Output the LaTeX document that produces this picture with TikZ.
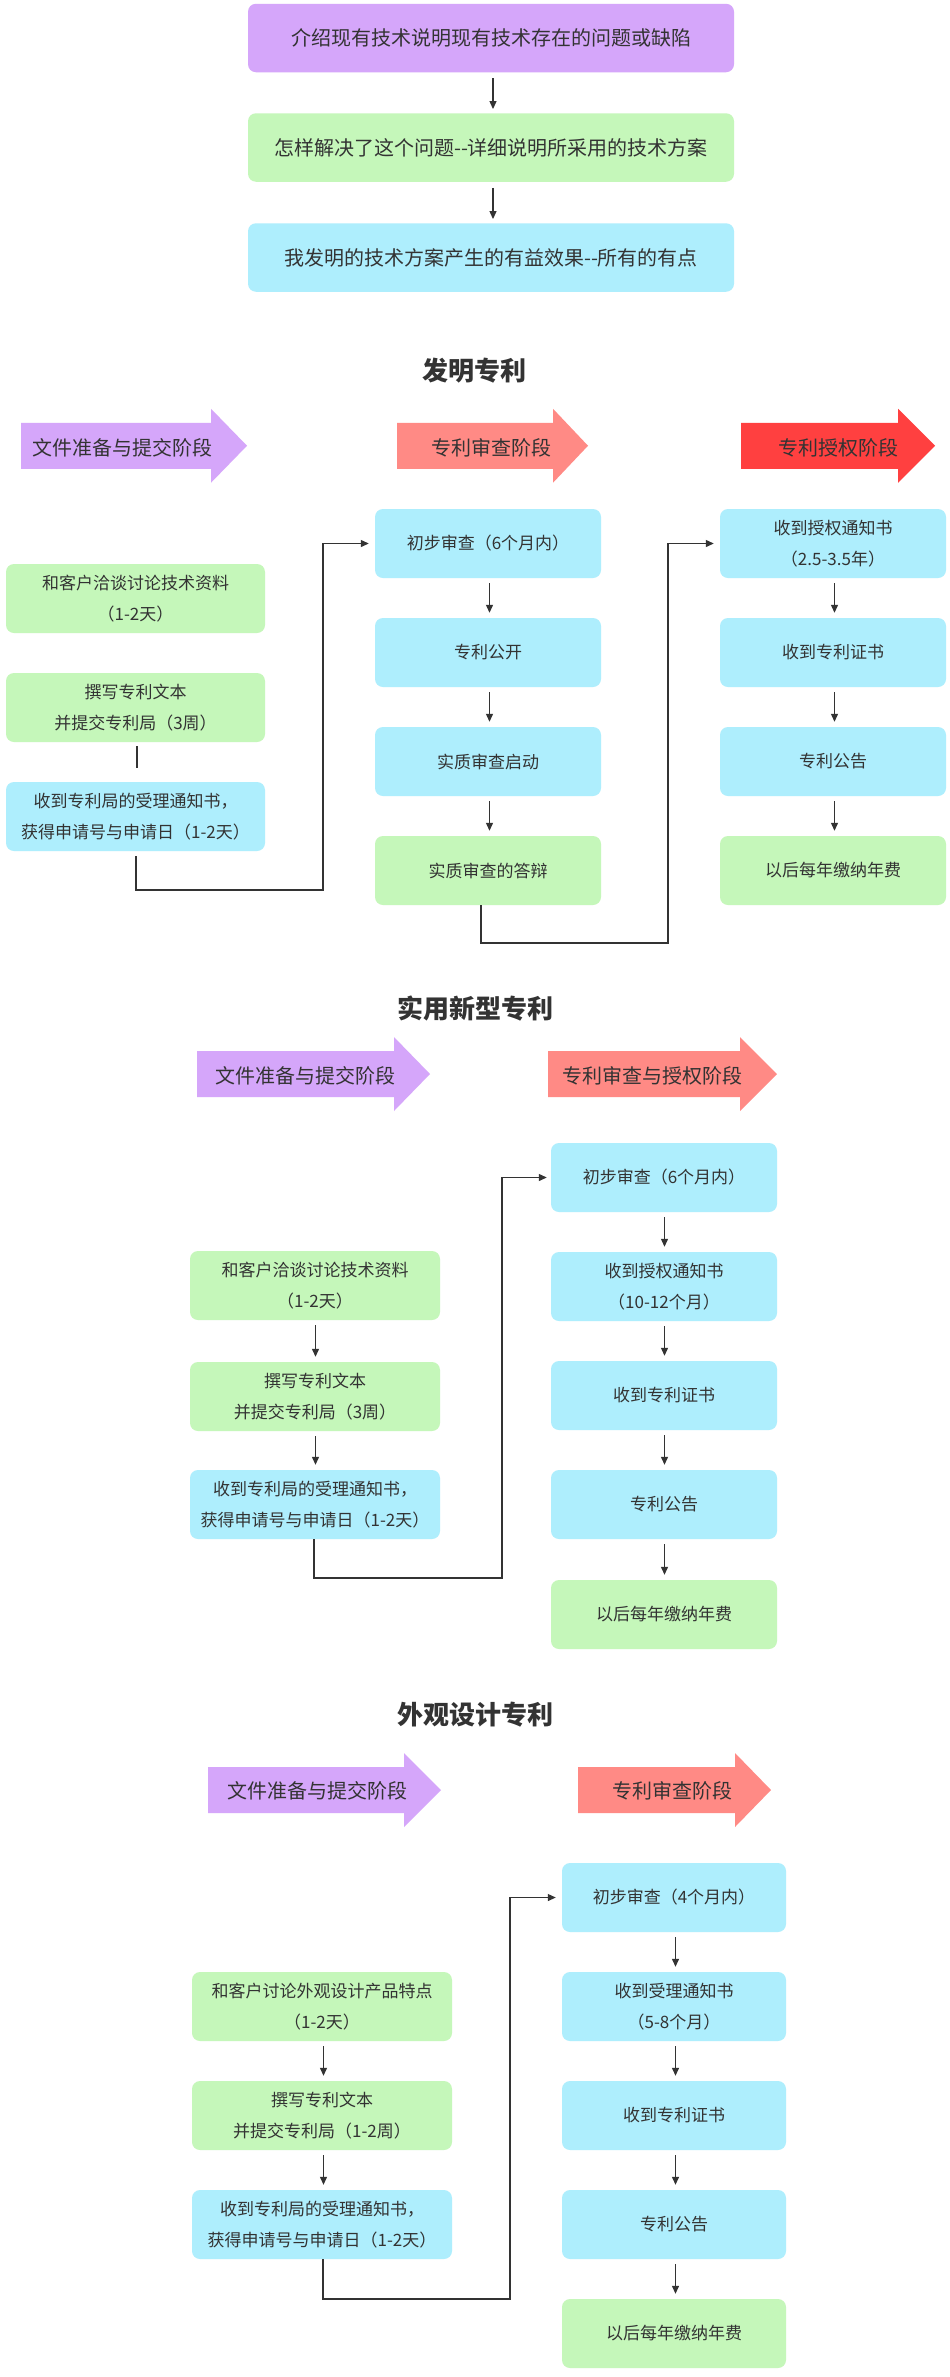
\documentclass[tikz,border=0pt]{standalone}
\usepackage{fontspec}
\setmainfont{Noto Sans CJK SC}
\usetikzlibrary{arrows.meta}
\definecolor{purp}{HTML}{D5A6FA}
\definecolor{grn}{HTML}{C5F7BA}
\definecolor{blu}{HTML}{AEEEFD}
\definecolor{salm}{HTML}{FF8A85}
\definecolor{redd}{HTML}{FF4040}
\definecolor{txt}{HTML}{333333}
\definecolor{lc}{HTML}{333333}
\newcommand\stagearrow[5]{%
  \fill[#5] (#1,#4-23) -- (#2,#4-23) -- (#2,#4-37) -- (#3,#4) -- (#2,#4+37) -- (#2,#4+23) -- (#1,#4+23) -- cycle;}
\begin{document}
\begin{tikzpicture}[x=1pt,y=-1pt,
  box/.style={rounded corners=8pt, inner sep=0pt, align=center, text=txt,
    font=\fontsize{17pt}{31pt}\selectfont, minimum height=69pt},
  topbox/.style={box, font=\fontsize{20pt}{24pt}\selectfont, minimum width=486pt, minimum height=68.5pt},
  lbox/.style={box, minimum width=#1},
  flow/.style={draw=lc, line width=1.2pt, -{Triangle[length=8pt,width=7pt]}, shorten <=5pt, shorten >=5pt},
  plain/.style={draw=lc, line width=1.2pt},
  stagetext/.style={text=txt, inner sep=0pt, font=\fontsize{20pt}{22pt}\selectfont},
  title/.style={text=txt, inner sep=0pt, font=\fontsize{26pt}{30pt}\selectfont\bfseries}]
\useasboundingbox (0,0) rectangle (950,2377);
\fill[white] (0,0) rectangle (950,2377);

% ---------- top three boxes ----------
\node[topbox, fill=purp] (t1) at (491,38) {介绍现有技术说明现有技术存在的问题或缺陷};
\node[topbox, fill=grn] (t2) at (491,147.5) {怎样解决了这个问题-{}-详细说明所采用的技术方案};
\node[topbox, fill=blu] (t3) at (491,257.5) {我发明的技术方案产生的有益效果-{}-所有的有点};
\draw[flow, shorten <=6pt, shorten >=4pt] ([xshift=2pt]t1.south) -- ([xshift=2pt]t2.north);
\draw[flow, shorten <=6pt, shorten >=4pt] ([xshift=2pt]t2.south) -- ([xshift=2pt]t3.north);

% ---------- 发明专利 ----------
\node[title] (h1) at (474,371) {发明专利};
\stagearrow{21}{211}{247}{445.75}{purp}
\stagearrow{397}{553}{588}{445.75}{salm}
\stagearrow{741}{898}{935}{445.75}{redd}
\node[stagetext] (s1a) at (122,448) {文件准备与提交阶段};
\node[stagetext] (s1b) at (491,448) {专利审查阶段};
\node[stagetext] (s1c) at (838,448) {专利授权阶段};

\node[lbox=259pt, fill=grn] (a1) at (135.5,598.5) {和客户洽谈讨论技术资料\\（1-2天）};
\node[lbox=259pt, fill=grn] (a2) at (135.5,707.5) {撰写专利文本\\并提交专利局（3周）};
\node[lbox=259pt, fill=blu] (a3) at (135.5,816.5) {收到专利局的受理通知书，\\获得申请号与申请日（1-2天）};

\node[lbox=226pt, fill=blu] (b1) at (488,543.5) {初步审查（6个月内）};
\node[lbox=226pt, fill=blu] (b2) at (488,652.5) {专利公开};
\node[lbox=226pt, fill=blu] (b3) at (488,761.5) {实质审查启动};
\node[lbox=226pt, fill=grn] (b4) at (488,870.5) {实质审查的答辩};

\node[lbox=226pt, fill=blu] (c1) at (833,543.5) {收到授权通知书\\（2.5-3.5年）};
\node[lbox=226pt, fill=blu] (c2) at (833,652.5) {收到专利证书};
\node[lbox=226pt, fill=blu] (c3) at (833,761.5) {专利公告};
\node[lbox=226pt, fill=grn] (c4) at (833,870.5) {以后每年缴纳年费};

\draw[plain, shorten <=4pt, shorten >=14pt] ([xshift=1.5pt]a2.south) -- ([xshift=1.5pt]a3.north);
\coordinate (j1) at (323,890);
\draw[flow, shorten >=6pt] ([xshift=0.5pt]a3.south) -- ([xshift=0.5pt]a3.south |- j1) -- (j1) |- (b1.west);
\foreach \u/\v in {b1/b2, b2/b3, b3/b4, c1/c2, c2/c3, c3/c4}
  \draw[flow] ([xshift=1.5pt]\u.south) -- ([xshift=1.5pt]\v.north);
\coordinate (j2) at (668,943);
\draw[flow, shorten <=0pt, shorten >=6pt] ([xshift=-7pt]b4.south) -- ([xshift=-7pt]b4.south |- j2) -- (j2) |- (c1.west);

% ---------- 实用新型专利 ----------
\node[title] (h2) at (475,1009) {实用新型专利};
\stagearrow{197}{394}{430}{1074}{purp}
\stagearrow{548}{740}{777}{1074}{salm}
\node[stagetext] (s2a) at (305,1076) {文件准备与提交阶段};
\node[stagetext] (s2b) at (652,1076) {专利审查与授权阶段};

\node[lbox=250pt, fill=grn] (d1) at (315,1285.5) {和客户洽谈讨论技术资料\\（1-2天）};
\node[lbox=250pt, fill=grn] (d2) at (315,1396.5) {撰写专利文本\\并提交专利局（3周）};
\node[lbox=250pt, fill=blu] (d3) at (315,1504.5) {收到专利局的受理通知书，\\获得申请号与申请日（1-2天）};

\node[lbox=226pt, fill=blu] (e1) at (664,1177.5) {初步审查（6个月内）};
\node[lbox=226pt, fill=blu] (e2) at (664,1286.5) {收到授权通知书\\（10-12个月）};
\node[lbox=226pt, fill=blu] (e3) at (664,1395.5) {收到专利证书};
\node[lbox=226pt, fill=blu] (e4) at (664,1504.5) {专利公告};
\node[lbox=226pt, fill=grn] (e5) at (664,1614.5) {以后每年缴纳年费};

\foreach \u/\v in {d1/d2, d2/d3, e1/e2, e2/e3, e3/e4, e4/e5}
  \draw[flow] ([xshift=0.5pt]\u.south) -- ([xshift=0.5pt]\v.north);
\coordinate (j3) at (502,1578);
\draw[flow, shorten <=0pt, shorten >=4pt] ([xshift=-1pt]d3.south) -- ([xshift=-1pt]d3.south |- j3) -- (j3) |- (e1.west);

% ---------- 外观设计专利 ----------
\node[title] (h3) at (475,1715) {外观设计专利};
\stagearrow{208}{404}{441}{1790}{purp}
\stagearrow{578}{735}{771}{1790}{salm}
\node[stagetext] (s3a) at (317,1791) {文件准备与提交阶段};
\node[stagetext] (s3b) at (672,1791) {专利审查阶段};

\node[lbox=260pt, fill=grn] (f1) at (322,2006.5) {和客户讨论外观设计产品特点\\（1-2天）};
\node[lbox=260pt, fill=grn] (f2) at (322,2115.5) {撰写专利文本\\并提交专利局（1-2周）};
\node[lbox=260pt, fill=blu] (f3) at (322,2224.5) {收到专利局的受理通知书，\\获得申请号与申请日（1-2天）};

\node[lbox=224pt, fill=blu] (g1) at (674,1897.5) {初步审查（4个月内）};
\node[lbox=224pt, fill=blu] (g2) at (674,2006.5) {收到受理通知书\\（5-8个月）};
\node[lbox=224pt, fill=blu] (g3) at (674,2115.5) {收到专利证书};
\node[lbox=224pt, fill=blu] (g4) at (674,2224.5) {专利公告};
\node[lbox=224pt, fill=grn] (g5) at (674,2333.5) {以后每年缴纳年费};

\foreach \u/\v in {f1/f2, f2/f3, g1/g2, g2/g3, g3/g4, g4/g5}
  \draw[flow] ([xshift=1.5pt]\u.south) -- ([xshift=1.5pt]\v.north);
\coordinate (j4) at (510,2299);
\draw[flow, shorten <=0pt, shorten >=6pt] ([xshift=1pt]f3.south) -- ([xshift=1pt]f3.south |- j4) -- (j4) |- (g1.west);
\end{tikzpicture}
\end{document}
